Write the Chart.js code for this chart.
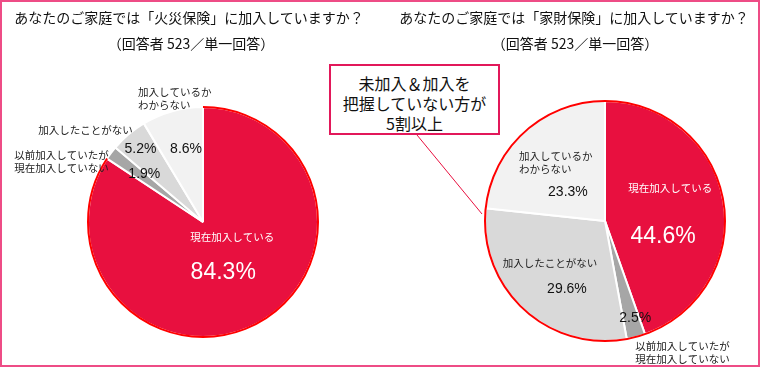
<!DOCTYPE html>
<html>
<head>
<meta charset="utf-8">
<script src="https://cdn.jsdelivr.net/npm/chart.js"></script>
<style>
  html, body { margin: 0; padding: 0; background: #fff; }
  #wrap { position: relative; width: 760px; height: 367px; overflow: hidden; font-family: "Noto Sans CJK JP", sans-serif; color: #111; }
  #frame { position: absolute; left: 0; top: 0; width: 760px; height: 367px; box-sizing: border-box; border: 2px solid #ee4c86; pointer-events: none; }
  canvas { position: absolute; top: 0; }
  .t { position: absolute; width: 380px; text-align: center; font-size: 14px; line-height: 20px; white-space: nowrap; }
  #callout { position: absolute; left: 329px; top: 64px; width: 171px; height: 71px; box-sizing: border-box; border: 2px solid #e2185a; background: #fff;
             font-size: 16px; line-height: 20px; text-align: center; padding-top: 7px; }
  svg { position: absolute; left: 0; top: 0; }
</style>
</head>
<body>
<div id="wrap">
  <canvas id="left" width="380" height="367" style="left:0"></canvas>
  <canvas id="right" width="380" height="367" style="left:380px"></canvas>
  <svg width="760" height="367"><line x1="417" y1="135" x2="482" y2="214" stroke="#e8103f" stroke-width="1"/></svg>
  <div class="t" style="left:-1px;top:7px">あなたのご家庭では「火災保険」に加入していますか？</div>
  <div class="t" style="left:1px;top:33px">（回答者 523／単一回答）</div>
  <div class="t" style="left:384px;top:7px">あなたのご家庭では「家財保険」に加入していますか？</div>
  <div class="t" style="left:385px;top:33px">（回答者 523／単一回答）</div>
  <div id="callout">未加入＆加入を<br>把握していない方が<br>5割以上</div>
  <div id="frame"></div>
</div>
<script>
// categories (same for both questions)
const categories = [
  '現在加入している',
  ['以前加入していたが', '現在加入していない'],
  '加入したことがない',
  ['加入しているか', 'わからない']
];
const fireValues = [84.3, 1.9, 5.2, 8.6];      // 火災保険
const contentsValues = [44.6, 2.5, 29.6, 23.3]; // 家財保険

const sliceColors = ['#e8103f', '#a6a6a6', '#d9d9d9', '#f2f2f2'];
const valueColors = ['#ffffff', '#111111', '#111111', '#111111'];

// label placement: value label at rf * radius along mid angle, plus nudge;
// name label relative to value label
const fireLayout = [
  { rf: 0.5, dx: -7, dy: 0, big: true, nx: 9, ny: -36, align: 'center', nameColor: '#fff' },
  { rf: 0.66, dx: 2, dy: -2, nx: -130, ny: -19, align: 'left' },
  { rf: 0.84, dx: 0, dy: 1, nx: -55, ny: -19, align: 'center' },
  { rf: 0.65, dx: 3, dy: -1, nx: -48, ny: -57, align: 'left' }
];
const contentsLayout = [
  { rf: 0.5, dx: -1, dy: 26, big: true, nx: 7, ny: -49, align: 'center', nameColor: '#fff' },
  { rf: 0.846, dx: 4, dy: -1, nx: 0, ny: 28, align: 'left' },
  { rf: 0.65, dx: 15, dy: 11, nx: -17, ny: -26, align: 'center' },
  { rf: 0.4, dx: -5, dy: 7, nx: -49, ny: -36, align: 'left' }
];

const pieLabels = {
  id: 'pieLabels',
  afterDatasetsDraw(chart, args, opts) {
    const ctx = chart.ctx;
    const meta = chart.getDatasetMeta(0);
    const data = chart.data.datasets[0].data;
    const r0 = meta.data[0];
    // red outline round the circle
    ctx.save();
    ctx.strokeStyle = '#ff0000';
    ctx.lineWidth = 2;
    ctx.beginPath();
    if (opts.outlineAll) ctx.arc(r0.x, r0.y, r0.outerRadius, 0, Math.PI * 2);
    else ctx.arc(r0.x, r0.y, r0.outerRadius, r0.startAngle, r0.endAngle);
    ctx.stroke();
    ctx.restore();

    meta.data.forEach((arc, i) => {
      const p = opts.layout[i];
      const mid = (arc.startAngle + arc.endAngle) / 2;
      const x = arc.x + Math.cos(mid) * arc.outerRadius * p.rf + p.dx;
      const y = arc.y + Math.sin(mid) * arc.outerRadius * p.rf + p.dy;
      ctx.save();
      ctx.textBaseline = 'middle';
      ctx.textAlign = 'center';
      ctx.fillStyle = valueColors[i];
      ctx.font = (p.big ? 23 : 14) + 'px "Liberation Sans", Arial, sans-serif';
      ctx.fillText(data[i].toFixed(1) + '%', x, y);
      const lines = [].concat(chart.data.labels[i]);
      ctx.font = '10.5px "Noto Sans CJK JP", sans-serif';
      ctx.fillStyle = p.nameColor || '#222';
      ctx.textAlign = p.align;
      lines.forEach((s, k) => ctx.fillText(s, x + p.nx, y + p.ny + k * 13));
      ctx.restore();
    });
  }
};

function makePie(id, values, layout, padding, outlineAll) {
  return new Chart(document.getElementById(id), {
    type: 'pie',
    data: {
      labels: categories,
      datasets: [{ data: values, backgroundColor: sliceColors, borderColor: '#ffffff', borderWidth: 2 }]
    },
    options: {
      responsive: false,
      animation: false,
      layout: { padding: padding },
      plugins: {
        legend: { display: false },
        tooltip: { enabled: false },
        pieLabels: { layout: layout, outlineAll: outlineAll }
      }
    },
    plugins: [pieLabels]
  });
}

makePie('left', fireValues, fireLayout, { left: 87, right: 61, top: 106, bottom: 29 }, false);
makePie('right', contentsValues, contentsLayout, { left: 104, right: 34, top: 100, bottom: 25 }, true);
</script>
</body>
</html>
